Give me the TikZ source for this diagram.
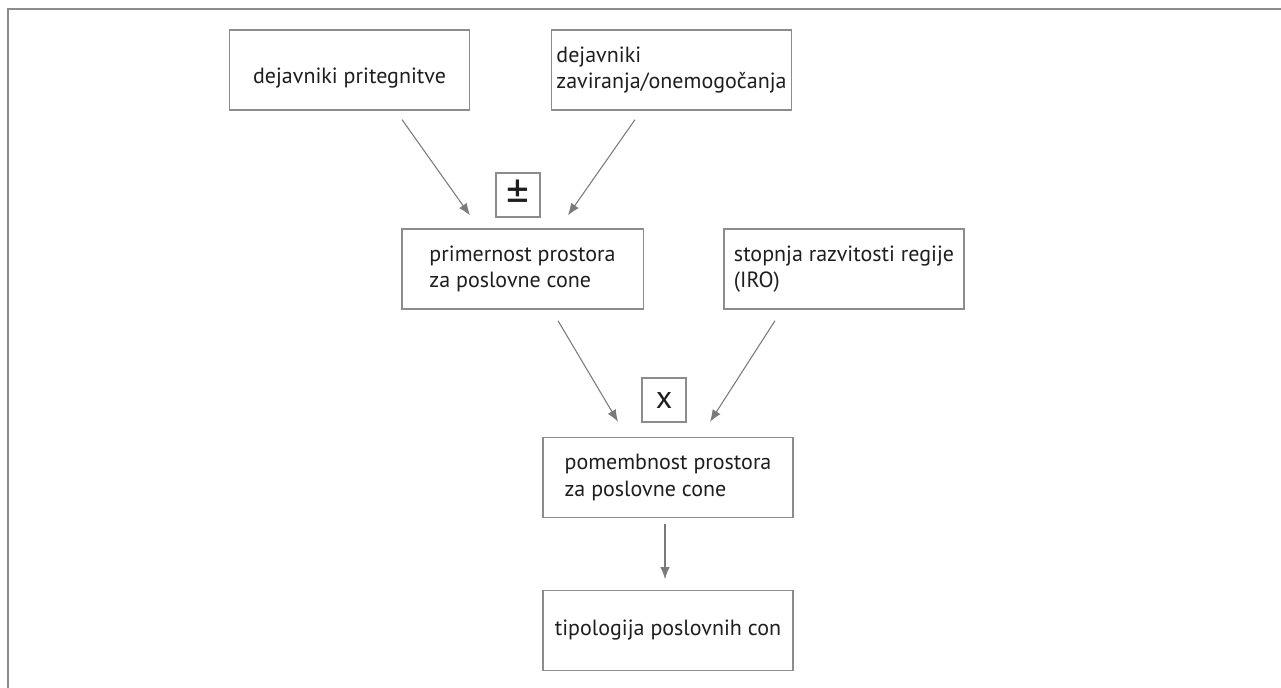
\documentclass[tikz,border=0pt]{standalone}
\usepackage{fontspec}
\setmainfont{PT Sans}
\usepackage{tikz}
\usetikzlibrary{arrows.meta}
\definecolor{linegray}{HTML}{8C8C8C}
\definecolor{arrowgray}{HTML}{7A7A7A}
\definecolor{textblack}{HTML}{1E1E1E}

\begin{document}
\begin{tikzpicture}[x=0.75pt,y=-0.75pt,
	box/.style={draw=linegray, line width=1pt, minimum width=180pt, minimum height=60pt, inner sep=0pt, align=left, text=textblack, font=\fontsize{16.5}{20}\selectfont},
	opbox/.style={draw=linegray, line width=1pt, minimum size=33pt, inner sep=0pt, text=textblack, font=\fontsize{24}{24}\selectfont},
	arr/.style={draw=arrowgray, line width=0.8pt, -{Latex[length=9pt,width=7pt]}}]
\useasboundingbox (0,0) rectangle (1281,688);
\draw[color=linegray, line width=1.5pt] (8,688)--(8,9)--(1281,9);

\node[box, text height=24pt] (pritegnitev) at (349.5,70) {dejavniki pritegnitve};
\node[box] (zaviranje) at (671.5,70) {dejavniki\\zaviranja/onemogočanja};
\node[opbox, font=\fontsize{34}{34}\selectfont] (plusminus) at (518,195) {±};
\node[box, minimum width=181pt] (primernost) at (522.5,269) {primernost prostora\\za poslovne cone};
\node[box] (razvitost) at (844,269) {stopnja razvitosti regije\\(IRO)};
\node[opbox] (krat) at (664,400) {x};
\node[box, minimum width=187.5pt] (pomembnost) at (668,477.5) {pomembnost prostora\\za poslovne cone};
\node[box, minimum width=187.5pt] (tipologija) at (668,630.5) {tipologija poslovnih con};

\draw[arr] ([xshift=39.4pt,yshift=-6.75pt]pritegnitev.south)--([xshift=-39.4pt,yshift=9.75pt]primernost.north);
\draw[arr] ([xshift=-27.4pt,yshift=-6.75pt]zaviranje.south)--([xshift=34.1pt,yshift=9.75pt]primernost.north);
\draw[arr] ([xshift=26.6pt,yshift=-8.25pt]primernost.south)--([xshift=-37.5pt,yshift=11.25pt]pomembnost.north);
\draw[arr] ([xshift=-51.75pt,yshift=-8.25pt]razvitost.south)--([xshift=31.5pt,yshift=11.25pt]pomembnost.north);
\draw[arr] ([xshift=-2.25pt,yshift=-4pt]pomembnost.south)--([xshift=-2.25pt,yshift=8pt]tipologija.north);
\end{tikzpicture}
\end{document}
